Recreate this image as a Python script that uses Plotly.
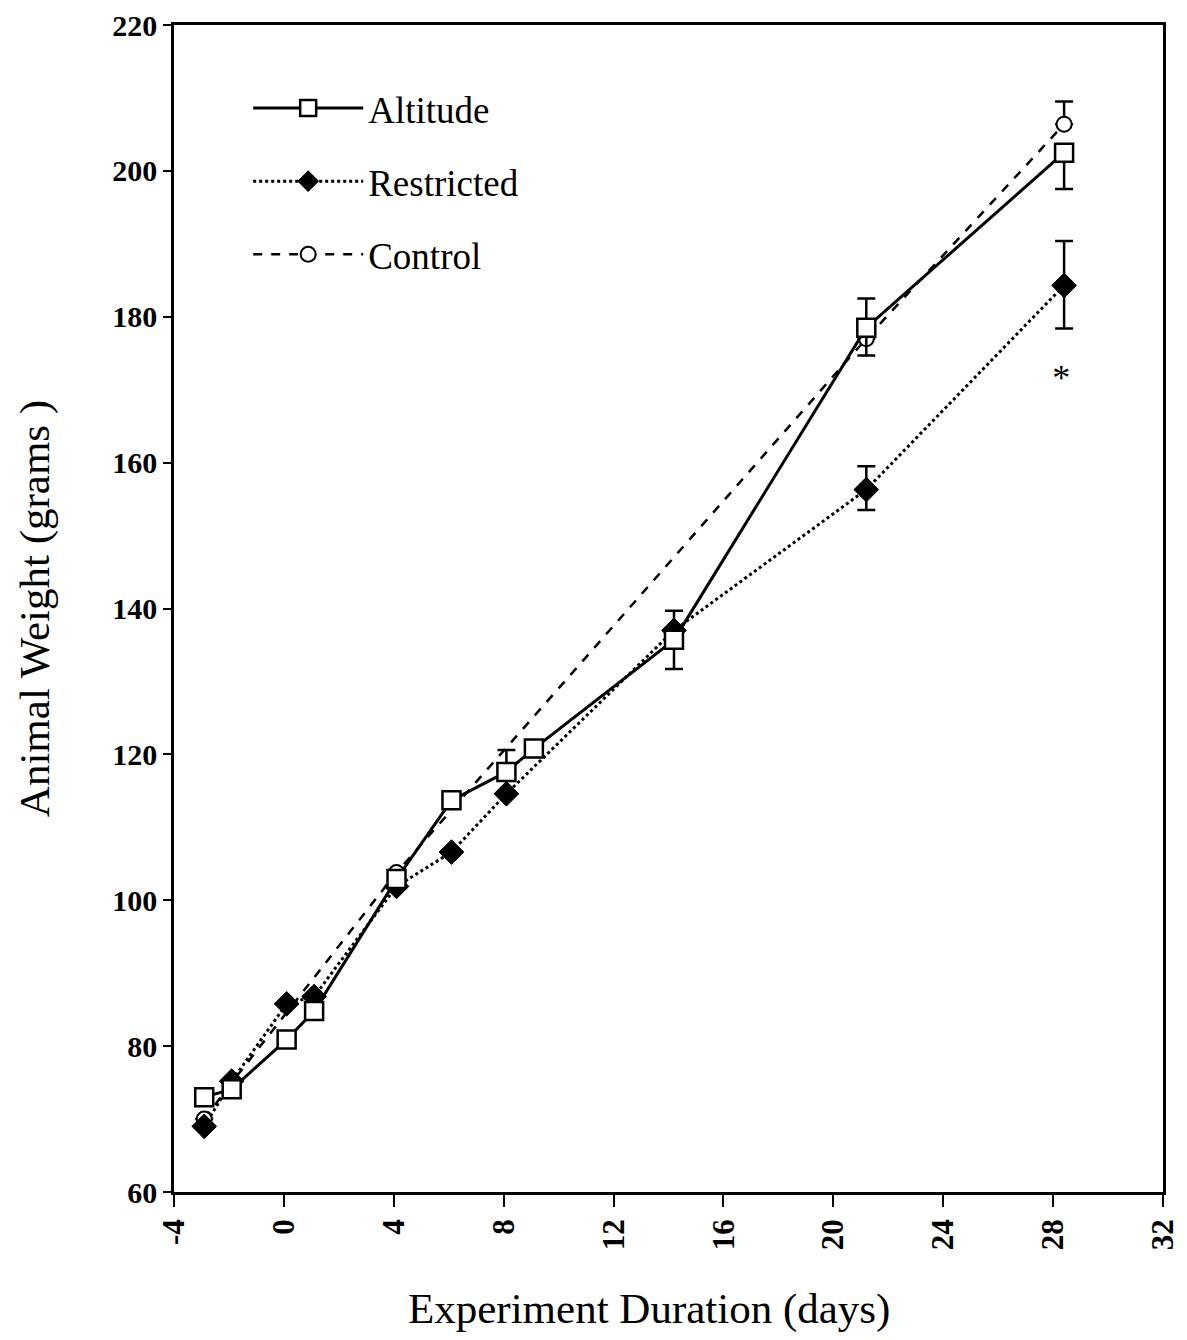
import plotly.graph_objects as go

# ---- data ----
alt_days = [-2.9, -1.9, 0.1, 1.1, 4.1, 6.1, 8.1, 9.1, 14.2, 21.2, 28.4]
alt_weight = [73.0, 74.1, 80.9, 84.8, 102.9, 113.7, 117.6, 120.8, 135.7, 178.5, 202.5]
alt_err_plus = [None, None, None, None, None, None, 3.0, None, 4.0, 4.0, None]
alt_err_minus = [None, None, None, None, None, None, 0.0, None, 4.0, 3.8, 5.0]

res_days = [-2.9, -1.9, 0.1, 1.1, 4.1, 6.1, 8.1, 14.2, 21.2, 28.4]
res_weight = [69.0, 75.2, 85.8, 86.8, 101.9, 106.6, 114.6, 137.0, 156.3, 184.3]
res_err_plus = [None, None, None, None, None, None, None, None, 3.2, 6.1]
res_err_minus = [None, None, None, None, None, None, None, None, 2.8, 5.9]

ctl_days = [-2.9, -1.9, 4.1, 21.2, 28.4]
ctl_weight = [70.0, 75.0, 103.8, 177.0, 206.4]
ctl_err_plus = [None, None, None, None, 3.1]
ctl_err_minus = [None, None, None, None, 0.0]

sig_days = [28.3]
sig_weight = [171.2]
sig_text = ["*"]

x_ticks = [-4, 0, 4, 8, 12, 16, 20, 24, 28, 32]
y_ticks = [60, 80, 100, 120, 140, 160, 180, 200, 220]

FONT = "Liberation Serif"

fig = go.Figure()

def err(plus, minus):
    return dict(type="data", symmetric=False, array=plus, arrayminus=minus,
                color="black", thickness=2.5, width=9, visible=True)

fig.add_trace(go.Scatter(
    x=ctl_days, y=ctl_weight, name="Control", mode="lines+markers",
    line=dict(color="black", width=2.5, dash="dash"),
    marker=dict(symbol="circle", size=15, color="white",
                line=dict(color="black", width=2)),
    error_y=err(ctl_err_plus, ctl_err_minus), legendgroup="c", legendrank=3))

fig.add_trace(go.Scatter(
    x=res_days, y=res_weight, name="Restricted", mode="lines+markers",
    line=dict(color="black", width=3, dash="dot"),
    marker=dict(symbol="diamond", size=19, color="black",
                line=dict(color="black", width=1)),
    error_y=err(res_err_plus, res_err_minus), legendgroup="r", legendrank=2))

fig.add_trace(go.Scatter(
    x=alt_days, y=alt_weight, name="Altitude", mode="lines+markers",
    line=dict(color="black", width=3),
    marker=dict(symbol="square", size=18, color="white",
                line=dict(color="black", width=2.5)),
    error_y=err(alt_err_plus, alt_err_minus), legendgroup="a", legendrank=1))

fig.add_trace(go.Scatter(
    x=sig_days, y=sig_weight, mode="text", text=sig_text,
    textfont=dict(family=FONT, size=36, color="black"), showlegend=False))

fig.update_layout(
    width=1187, height=1340,
    margin=dict(l=166, r=32, t=17, b=156),
    paper_bgcolor="white", plot_bgcolor="white",
    font=dict(family=FONT, color="black"),
    showlegend=True,
    legend=dict(x=0.075, y=0.955, xanchor="left", yanchor="top",
                bgcolor="rgba(0,0,0,0)",
                font=dict(family=FONT, size=37, color="black"),
                tracegroupgap=22, itemwidth=110),
    xaxis=dict(range=[-4, 32], tickvals=x_ticks, ticktext=[str(v) for v in x_ticks],
               tickangle=-90, ticks="outside", ticklen=12, tickwidth=2, tickcolor="black",
               showline=True, linecolor="black", linewidth=2.5, mirror=True,
               showgrid=False, zeroline=False, automargin=False,
               tickfont=dict(family=FONT, size=31, color="black", weight="bold"),
               title=dict(text="")),
    yaxis=dict(range=[60, 220], tickvals=y_ticks, ticks="outside", ticklen=8,
               tickwidth=2, tickcolor="black", ticklabeloverflow="allow",
               showline=True, linecolor="black", linewidth=2.5, mirror=True,
               showgrid=False, zeroline=False, automargin=False,
               tickfont=dict(family=FONT, size=30, color="black", weight="bold"),
               title=dict(text="Animal Weight (grams )",
                          font=dict(family=FONT, size=43, color="black"), standoff=50)),
    annotations=[dict(text="Experiment Duration (days)", xref="paper", yref="paper",
                      x=0.48, y=-0.1, xanchor="center", yanchor="middle",
                      showarrow=False, font=dict(family=FONT, size=43, color="black"))],
)

fig.write_html("out.html")
